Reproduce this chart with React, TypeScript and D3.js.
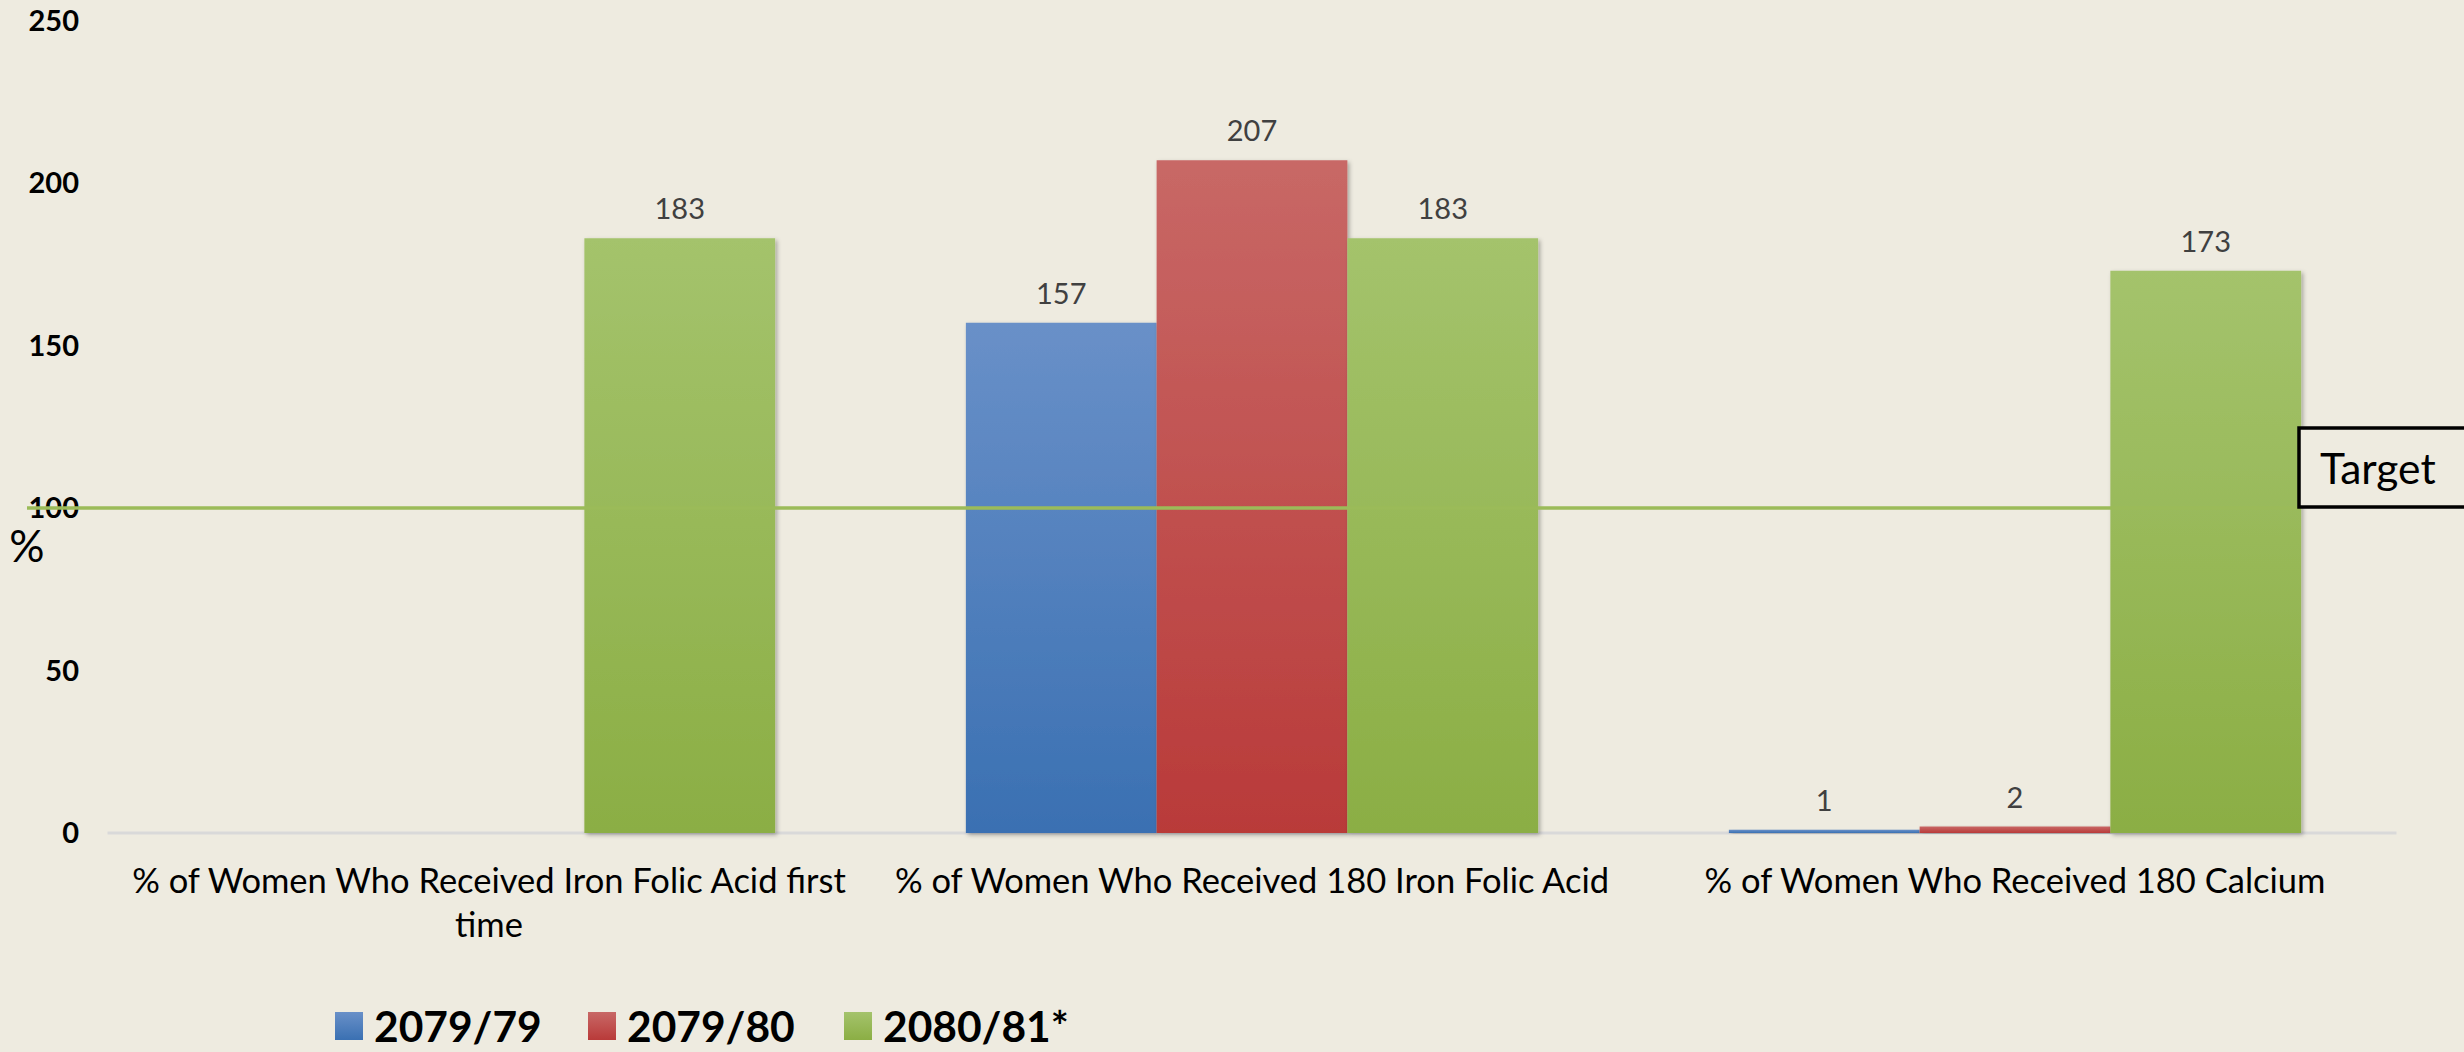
import React from "react";
import * as d3 from "d3";

const categories = [
  "% of Women Who Received Iron Folic Acid first time",
  "% of Women Who Received 180 Iron Folic Acid",
  "% of Women Who Received 180 Calcium",
];
const categoryLines = [
  ["% of Women Who Received Iron Folic Acid first", "time"],
  ["% of Women Who Received 180 Iron Folic Acid"],
  ["% of Women Who Received 180 Calcium"],
];
const seriesNames = ["2079/79", "2079/80", "2080/81*"];
const series1 = [null, 157, 1];
const series2 = [null, 207, 2];
const series3 = [183, 183, 173];
const yTicks = [0, 50, 100, 150, 200, 250];
const targetValue = 100;
const targetLabel = "Target";
const yLabel = "%";

const W = 2464;
const H = 1052;
const BG = "#eeebe0";
const colorsTop = ["#6990c8", "#c86866", "#a4c36c"];
const colorsBottom = ["#3a70b2", "#b93a39", "#8bae44"];
const FONT = "Lato, 'Open Sans', sans-serif";

export default function App() {
  const values = [series1, series2, series3];
  const y = d3.scaleLinear().domain([0, 250]).range([833, 20.5]);
  const x0 = d3
    .scaleBand<string>()
    .domain(categories)
    .range([107.5, 2396.5])
    .paddingInner(0.25)
    .paddingOuter(0.125);
  const x1 = d3
    .scaleBand<string>()
    .domain(seriesNames)
    .range([0, x0.bandwidth()]);

  const legendX = [335, 588, 844];
  const [r0, r1] = x0.range();

  return (
    <svg
      width={W}
      height={H}
      style={{ position: "absolute", left: 0, top: 0, display: "block", background: BG }}
    >
      <defs>
        {seriesNames.map((s, i) => (
          <linearGradient key={s} id={`g${i}`} x1="0" y1="0" x2="0" y2="1">
            <stop offset="0%" stopColor={colorsTop[i]} />
            <stop offset="100%" stopColor={colorsBottom[i]} />
          </linearGradient>
        ))}
        <filter id="sh" x="-10%" y="-10%" width="120%" height="120%">
          <feDropShadow dx="2" dy="2" stdDeviation="2" floodColor="#000" floodOpacity="0.3" />
        </filter>
      </defs>
      <rect x={0} y={0} width={W} height={H} fill={BG} />

      {/* y tick labels */}
      {yTicks.map((t) => (
        <text
          key={t}
          x={79}
          y={y(t)}
          dy="0.36em"
          textAnchor="end"
          fontFamily={FONT}
          fontWeight="bold"
          fontSize={29}
          fill="#000"
        >
          {t}
        </text>
      ))}
      <text x={27} y={546} dy="0.36em" textAnchor="middle" fontFamily={FONT} fontSize={44} fill="#000">
        {yLabel}
      </text>

      {/* baseline */}
      <line x1={r0} x2={r1} y1={y(0)} y2={y(0)} stroke="#d9d9d9" strokeWidth={3} />

      {/* bars */}
      {categories.map((c, ci) => (
        <g key={c} transform={`translate(${x0(c)},0)`}>
          {seriesNames.map((s, si) => {
            const v = values[si][ci];
            if (v === null || v === undefined) return null;
            return (
              <rect
                key={s}
                x={x1(s)}
                y={y(v)}
                width={x1.bandwidth()}
                height={y(0) - y(v)}
                fill={`url(#g${si})`}
                filter="url(#sh)"
              />
            );
          })}
        </g>
      ))}

      {/* target line */}
      <line x1={27} x2={2299} y1={y(targetValue)} y2={y(targetValue)} stroke="#9bbb59" strokeWidth={3.5} />

      {/* value labels */}
      {categories.map((c, ci) => (
        <g key={c + "l"} transform={`translate(${x0(c)},0)`}>
          {seriesNames.map((s, si) => {
            const v = values[si][ci];
            if (v === null || v === undefined) return null;
            return (
              <text
                key={s}
                x={(x1(s) as number) + x1.bandwidth() / 2}
                y={y(v) - 19}
                textAnchor="middle"
                fontFamily={FONT}
                fontSize={29}
                fill="#404040"
              >
                {v}
              </text>
            );
          })}
        </g>
      ))}

      {/* target box */}
      <rect x={2299} y={428} width={200} height={79} fill={BG} stroke="#000" strokeWidth={3.5} />
      <text x={2320} y={484} fontFamily={FONT} fontSize={42.5} fill="#000">
        {targetLabel}
      </text>

      {/* category labels */}
      {categories.map((c, ci) => (
        <text
          key={c + "c"}
          x={(x0(c) as number) + x0.bandwidth() / 2}
          y={893}
          textAnchor="middle"
          fontFamily={FONT}
          fontSize={34.5}
          fill="#000"
        >
          {categoryLines[ci].map((ln, li) => (
            <tspan key={li} x={(x0(c) as number) + x0.bandwidth() / 2} dy={li === 0 ? 0 : 44}>
              {ln}
            </tspan>
          ))}
        </text>
      ))}

      {/* legend */}
      {seriesNames.map((s, i) => (
        <g key={s + "lg"} transform={`translate(${legendX[i]},0)`}>
          <rect x={0} y={1012} width={28} height={28} fill={`url(#g${i})`} />
          <text x={39} y={1042} fontFamily={FONT} fontWeight="bold" fontSize={42.5} fill="#000">
            {s}
          </text>
        </g>
      ))}
    </svg>
  );
}
